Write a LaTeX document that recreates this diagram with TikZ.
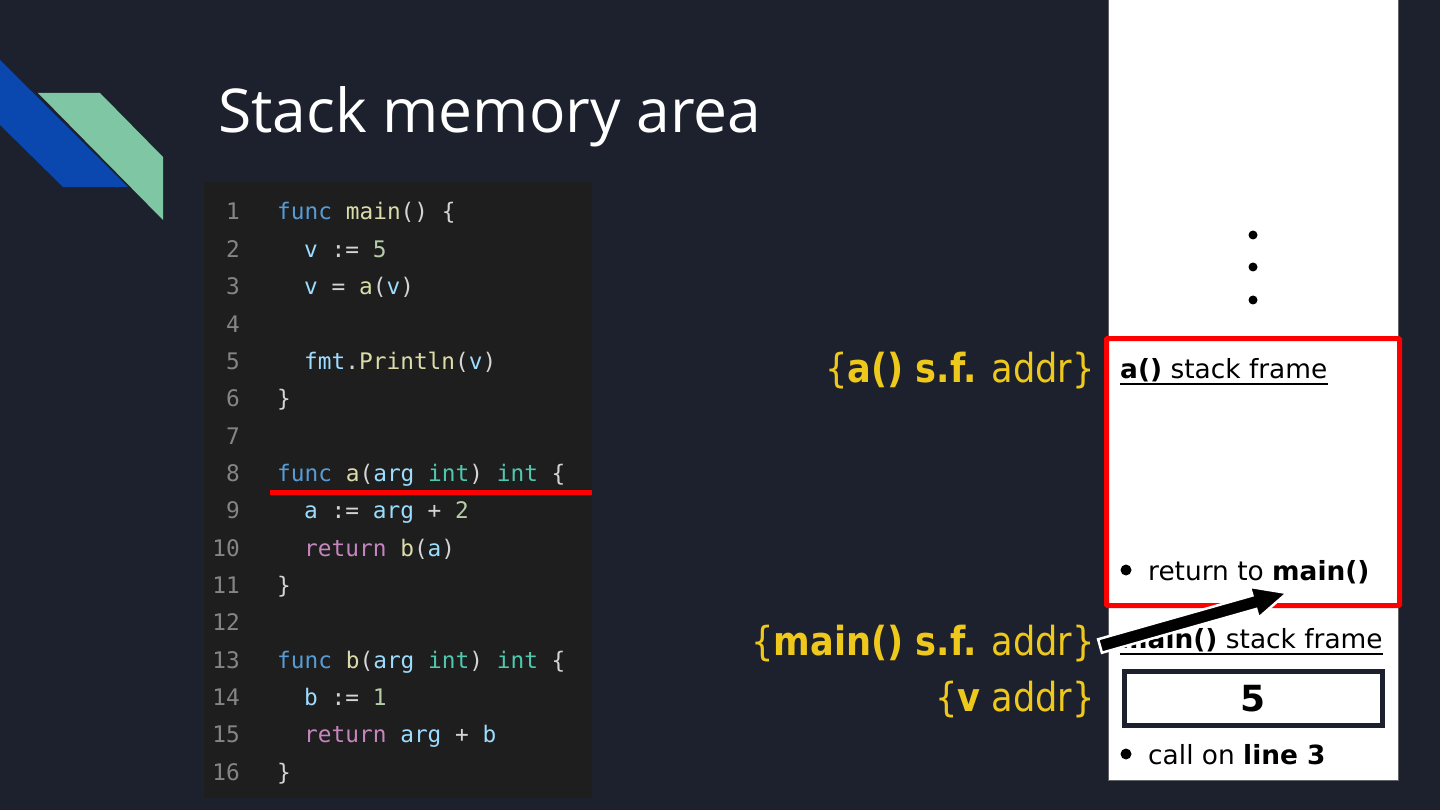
\documentclass[tikz,border=0pt]{standalone}
\usepackage{fontspec}
\setmainfont{DejaVu Sans}
\newfontfamily\titlefont{Open Sans}
\newfontfamily\codefont{DejaVu Sans Mono}
\newfontfamily\lblfont[FakeStretch=0.88]{DejaVu Sans}
\newfontfamily\framefont{DejaVu Sans}
\usetikzlibrary{calc}
\definecolor{bg}{HTML}{1C212D}
\definecolor{codebg}{HTML}{1E1E1E}
\definecolor{logoblue}{HTML}{0A47AE}
\definecolor{logogreen}{HTML}{7FC6A4}
\definecolor{kwc}{HTML}{569CD6}
\definecolor{fnc}{HTML}{DCDCAA}
\definecolor{vrc}{HTML}{9CDCFE}
\definecolor{nmc}{HTML}{B5CEA8}
\definecolor{tyc}{HTML}{4EC9B0}
\definecolor{rtc}{HTML}{C586C0}
\definecolor{pnc}{HTML}{D4D4D4}
\definecolor{lnc}{HTML}{858585}
\definecolor{lblyellow}{HTML}{EFC81C}
\definecolor{hired}{HTML}{FF0000}
\newcommand{\kw}[1]{\textcolor{kwc}{#1}}
\newcommand{\fn}[1]{\textcolor{fnc}{#1}}
\newcommand{\vr}[1]{\textcolor{vrc}{#1}}
\newcommand{\nm}[1]{\textcolor{nmc}{#1}}
\newcommand{\ty}[1]{\textcolor{tyc}{#1}}
\newcommand{\rt}[1]{\textcolor{rtc}{#1}}
\begin{document}
\begin{tikzpicture}[x=1pt,y=-1pt,
  codeline/.style={anchor=base west, inner sep=0pt, text=pnc, font=\codefont\fontsize{22.8}{26}\selectfont},
  lnum/.style={anchor=base east, inner sep=0pt, text=lnc, font=\codefont\fontsize{22.8}{26}\selectfont},
  frametxt/.style={anchor=base west, inner sep=0pt, text=black, font=\framefont\fontsize{26.4}{31}\selectfont},
  addrlbl/.style={anchor=base east, inner sep=0pt, text=lblyellow, font=\lblfont\fontsize{40}{46}\selectfont},
  bulletdot/.style={fill=black, draw=none},
  uline/.style={draw=black, line width=1.7pt}
]
\useasboundingbox (0,0) rectangle (1440,810);
\fill[bg] (0,0) rectangle (1440,810);

% logo
\fill[logoblue] (0,60) -- (128,187) -- (63,187) -- (0,125) -- cycle;
\fill[logogreen] (38,93) -- (100,93) -- (163,157) -- (163,220) -- cycle;

% title
\node[anchor=base west, inner sep=0pt, text=white, font=\titlefont\fontsize{60.5}{70}\selectfont] (title) at (218,133) {Stack memory area};

% code panel
\fill[codebg] (204,182) rectangle (592,798);
\foreach \i in {1,...,16}
  \node[lnum] (ln\i) at (240,{220+(\i-1)*37.35}) {\i};
\node[codeline] (c1) at (277,220) {\kw{func} \fn{main}() \{};
\node[codeline] (c2) at (304,{220+1*37.35}) {\vr{v} := \nm{5}};
\node[codeline] (c3) at (304,{220+2*37.35}) {\vr{v} = \fn{a}(\vr{v})};
\node[codeline] (c5) at (304,{220+4*37.35}) {\vr{fmt}.\fn{Println}(\vr{v})};
\node[codeline] (c6) at (277,{220+5*37.35}) {\}};
\node[codeline] (c8) at (277,{220+7*37.35}) {\kw{func} \fn{a}(\vr{arg} \ty{int}) \ty{int} \{};
\node[codeline] (c9) at (304,{220+8*37.35}) {\vr{a} := \vr{arg} + \nm{2}};
\node[codeline] (c10) at (304,{220+9*37.35}) {\rt{return} \fn{b}(\vr{a})};
\node[codeline] (c11) at (277,{220+10*37.35}) {\}};
\node[codeline] (c13) at (277,{220+12*37.35}) {\kw{func} \fn{b}(\vr{arg} \ty{int}) \ty{int} \{};
\node[codeline] (c14) at (304,{220+13*37.35}) {\vr{b} := \nm{1}};
\node[codeline] (c15) at (304,{220+14*37.35}) {\rt{return} \vr{arg} + \vr{b}};
\node[codeline] (c16) at (277,{220+15*37.35}) {\}};
% red underline of line 8
\draw[hired, line width=5pt] (270,492) -- (592,492);

% stack column
\filldraw[fill=white, draw=gray!70!bg, line width=1pt] (1108,-2) rectangle (1398,780);
\fill[black] (1253,235) circle (4.5);
\fill[black] (1253,267) circle (4.5);
\fill[black] (1253,300) circle (4.5);

% a() frame
\draw[hired, line width=5pt, rounded corners=1pt] (1106.5,338.5) rectangle (1399.5,605.5);
\node[frametxt] (aframe) at (1120,378) {\textbf{a()} stack frame};
\draw[uline] ($(aframe.base west)+(0,6)$) -- ($(aframe.base east)+(0,6)$);
\fill[bulletdot] (1126,570) circle (5.5);
\node[frametxt] (aret) at (1148,580) {return to \textbf{main()}};

% main() frame
\node[frametxt] (mframe) at (1120,648) {\textbf{main()} stack frame};
\draw[uline] ($(mframe.base west)+(0,6)$) -- ($(mframe.base east)+(0,6)$);
\node[draw=bg, line width=5pt, minimum width=258pt, minimum height=54pt, inner sep=0pt,
      font=\framefont\fontsize{36}{40}\selectfont\bfseries, text=black] (vbox) at (1253.5,698.5) {5};
\fill[bulletdot] (1126,754) circle (5.5);
\node[frametxt] (mcall) at (1148,764) {call on \textbf{line 3}};

% address labels
\node[addrlbl] (alab) at (1095,382) {\{\textbf{a() s.f.} addr\}};
\node[addrlbl] (mlab) at (1095,655) {\{\textbf{main() s.f.} addr\}};
\node[addrlbl] (vlab) at (1095,711) {\{\textbf{v} addr\}};

% arrow from main() s.f. addr to return point
\coordinate (atail) at (1100,646);
\coordinate (atip) at (1287,593);
\coordinate (abase) at ($(atip)!34pt!(atail)$);
\filldraw[fill=black, draw=white, line width=2.5pt, line join=miter]
  ($(atail)!7pt!90:(atip)$) -- ($(abase)!7pt!-90:(atail)$) -- ($(abase)!16pt!-90:(atail)$)
  -- (atip) -- ($(abase)!16pt!90:(atail)$) -- ($(abase)!7pt!90:(atail)$)
  -- ($(atail)!7pt!-90:(atip)$) -- cycle;
\end{tikzpicture}
\end{document}
